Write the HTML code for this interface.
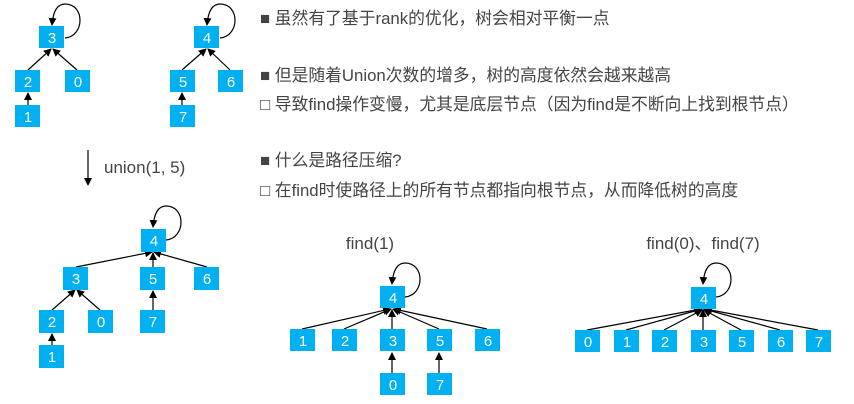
<!DOCTYPE html>
<html><head><meta charset="utf-8"><style>
body{margin:0;background:#fff;width:854px;height:404px;overflow:hidden}
svg{display:block}
.t{font-family:"Liberation Sans","Noto Sans CJK SC",sans-serif;font-size:16.8px;fill:#444}
.l{font-family:"Liberation Sans","Noto Sans CJK SC",sans-serif;font-size:17px;fill:#444}
.n{font-family:"Liberation Sans",sans-serif;font-size:15px;fill:#fff;text-anchor:middle}
</style></head><body>
<svg width="854" height="404" viewBox="0 0 854 404" xmlns="http://www.w3.org/2000/svg">
<defs><marker id="a" markerWidth="8" markerHeight="8" refX="7" refY="4" orient="auto" markerUnits="userSpaceOnUse"><path d="M0,0 L8,4 L0,8 Z" fill="#000"/></marker></defs>
<g stroke="#000" stroke-width="1.2" fill="none" marker-end="url(#a)">
<line x1="28" y1="70" x2="51" y2="49"/><line x1="77" y1="70" x2="53" y2="49"/><line x1="28" y1="105" x2="28" y2="93"/>
<path d="M65 38 C85 36 85 4 65 4 C57 4 53 12 52 25"/>
<line x1="182" y1="70" x2="206" y2="49"/><line x1="230" y1="70" x2="208" y2="49"/><line x1="182" y1="105" x2="182" y2="93"/>
<path d="M220 38 C240 36 240 4 220 4 C212 4 208 12 207 25"/>
<line x1="88" y1="150" x2="88" y2="185"/>
<line x1="76" y1="267" x2="152" y2="252"/><line x1="153" y1="267" x2="153" y2="253"/><line x1="207" y1="267" x2="154" y2="252"/>
<line x1="52" y1="310" x2="75" y2="290"/><line x1="100" y1="310" x2="77" y2="290"/><line x1="153" y1="310" x2="153" y2="291"/><line x1="52" y1="345" x2="52" y2="334"/>
<path d="M166 240 C186 238 186 206 166 206 C158 206 154 214 153 227"/>
<line x1="302" y1="329" x2="390" y2="309"/><line x1="344" y1="329" x2="391" y2="309"/><line x1="392" y1="329" x2="392" y2="310"/><line x1="439" y1="329" x2="393" y2="309"/><line x1="487" y1="329" x2="394" y2="309"/>
<line x1="392" y1="373" x2="392" y2="353"/><line x1="439" y1="373" x2="439" y2="353"/>
<path d="M405 297 C425 295 425 263 405 263 C397 263 393 271 392 284"/>
<line x1="587" y1="330" x2="701" y2="309"/><line x1="626" y1="330" x2="702" y2="309"/><line x1="664" y1="330" x2="702" y2="310"/><line x1="703" y1="330" x2="703" y2="310"/><line x1="741" y1="330" x2="704" y2="310"/><line x1="780" y1="330" x2="704" y2="309"/><line x1="818" y1="330" x2="705" y2="309"/>
<path d="M716 297 C736 295 736 263 716 263 C708 263 704 271 703 284"/>
</g>
<g fill="#00b0f0">
<rect x="39" y="26" width="25" height="22"/><rect x="15" y="70" width="25" height="22"/><rect x="65" y="70" width="25" height="22"/><rect x="15" y="105" width="25" height="22"/>
<rect x="194" y="26" width="25" height="22"/><rect x="170" y="70" width="25" height="22"/><rect x="218" y="70" width="25" height="22"/><rect x="170" y="105" width="25" height="22"/>
<rect x="141" y="229" width="25" height="23"/><rect x="63" y="267" width="25" height="23"/><rect x="140" y="267" width="25" height="23"/><rect x="194" y="267" width="25" height="23"/>
<rect x="39" y="310" width="25" height="23"/><rect x="88" y="310" width="25" height="23"/><rect x="140" y="310" width="25" height="23"/><rect x="39" y="345" width="25" height="23"/>
<rect x="380" y="286" width="25" height="22"/>
<rect x="290" y="329" width="25" height="22"/><rect x="332" y="329" width="25" height="22"/><rect x="380" y="329" width="25" height="22"/><rect x="427" y="329" width="25" height="22"/><rect x="475" y="329" width="25" height="22"/>
<rect x="380" y="373" width="25" height="22"/><rect x="427" y="373" width="25" height="22"/>
<rect x="691" y="287" width="25" height="22"/>
<rect x="575" y="330" width="25" height="22"/><rect x="614" y="330" width="25" height="22"/><rect x="652" y="330" width="25" height="22"/><rect x="691" y="330" width="25" height="22"/><rect x="729" y="330" width="25" height="22"/><rect x="768" y="330" width="25" height="22"/><rect x="806" y="330" width="25" height="22"/>
</g>
<g class="n">
<text x="52" y="43">3</text><text x="28" y="87">2</text><text x="78" y="87">0</text><text x="28" y="122">1</text>
<text x="207" y="43">4</text><text x="183" y="87">5</text><text x="231" y="87">6</text><text x="183" y="122">7</text>
<text x="154" y="246">4</text><text x="76" y="284">3</text><text x="153" y="284">5</text><text x="207" y="284">6</text>
<text x="52" y="327">2</text><text x="101" y="327">0</text><text x="153" y="327">7</text><text x="52" y="362">1</text>
<text x="393" y="303">4</text>
<text x="303" y="346">1</text><text x="345" y="346">2</text><text x="393" y="346">3</text><text x="440" y="346">5</text><text x="488" y="346">6</text>
<text x="393" y="390">0</text><text x="440" y="390">7</text>
<text x="704" y="304">4</text>
<text x="588" y="347">0</text><text x="627" y="347">1</text><text x="665" y="347">2</text><text x="704" y="347">3</text><text x="742" y="347">5</text><text x="781" y="347">6</text><text x="819" y="347">7</text>
</g>
<g class="l">
<text x="104" y="173">union(1, 5)</text>
<text x="370" y="249" text-anchor="middle">find(1)</text>
<text x="703" y="249" text-anchor="middle">find(0)、find(7)</text>
</g>
<g class="t">
<text x="260" y="24">■ 虽然有了基于rank的优化，树会相对平衡一点</text>
<text x="260" y="81">■ 但是随着Union次数的增多，树的高度依然会越来越高</text>
<text x="260" y="110">□ 导致find操作变慢，尤其是底层节点（因为find是不断向上找到根节点）</text>
<text x="260" y="166">■ 什么是路径压缩?</text>
<text x="260" y="196">□ 在find时使路径上的所有节点都指向根节点，从而降低树的高度</text>
</g>
</svg>
</body></html>
